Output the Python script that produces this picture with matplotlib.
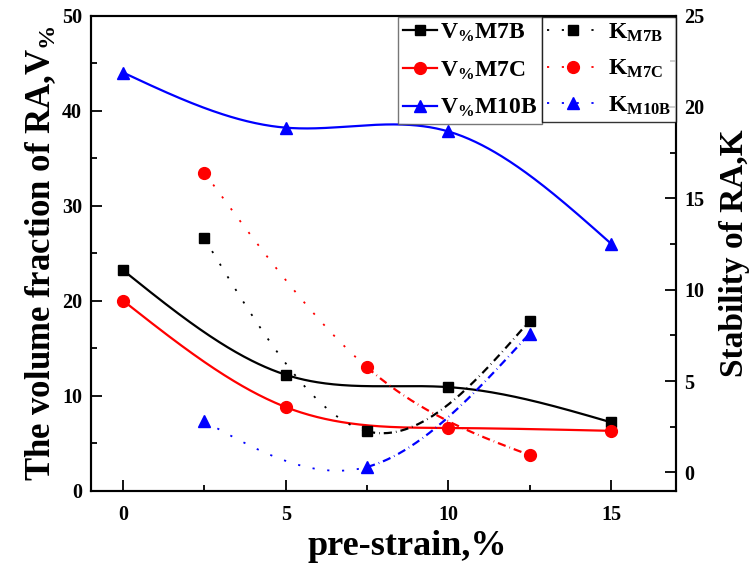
import matplotlib
matplotlib.use('Agg')
import matplotlib.pyplot as plt
from matplotlib.lines import Line2D
import numpy as np

plt.rcParams['font.family'] = ['Liberation Serif', 'DejaVu Serif']
plt.rcParams['font.weight'] = 'bold'
plt.rcParams['axes.labelweight'] = 'bold'
plt.rcParams['mathtext.fontset'] = 'custom'
plt.rcParams['mathtext.rm'] = 'Liberation Serif:bold'
plt.rcParams['mathtext.it'] = 'Liberation Serif:bold:italic'
plt.rcParams['mathtext.bf'] = 'Liberation Serif:bold'

# pre-strain (%)
strain_v = [0, 5, 10, 15]
strain_k = [2.5, 7.5, 12.5]

# volume fraction of RA, V% (left axis)
v_m7b = [23.2, 12.2, 10.9, 7.2]
v_m7c = [20.0, 8.8, 6.6, 6.3]
v_m10b = [44.0, 38.2, 37.8, 26.0]

# stability of RA, K (right axis)
k_m7b = [12.8, 2.25, 8.3]
k_m7c = [16.4, 5.75, 0.95]
k_m10b = [2.8, 0.3, 7.6]

v_labels = [r'$\mathrm{V_{\%}M7B}$', r'$\mathrm{V_{\%}M7C}$', r'$\mathrm{V_{\%}M10B}$']
k_labels = [r'$\mathrm{K_{M7B}}$', r'$\mathrm{K_{M7C}}$', r'$\mathrm{K_{M10B}}$']


def spline(x, y, xs):
    # natural cubic spline through the points
    x = np.asarray(x, float); y = np.asarray(y, float)
    n = len(x); h = np.diff(x)
    A = np.zeros((n, n)); r = np.zeros(n)
    A[0, 0] = A[-1, -1] = 1
    for i in range(1, n - 1):
        A[i, i - 1] = h[i - 1]; A[i, i] = 2 * (h[i - 1] + h[i]); A[i, i + 1] = h[i]
        r[i] = 3 * ((y[i + 1] - y[i]) / h[i] - (y[i] - y[i - 1]) / h[i - 1])
    c = np.linalg.solve(A, r)
    b = (y[1:] - y[:-1]) / h - h * (2 * c[:-1] + c[1:]) / 3
    d = (c[1:] - c[:-1]) / (3 * h)
    idx = np.clip(np.searchsorted(x, xs) - 1, 0, n - 2)
    t = xs - x[idx]
    return y[idx] + b[idx] * t + c[idx] * t ** 2 + d[idx] * t ** 3


fig = plt.figure(figsize=(7.5, 5.7), dpi=100)
ax = fig.add_axes([0.1207, 0.1391, 0.7807, 0.8337])
ax2 = ax.twinx()

colors = ['black', 'red', 'blue']
markers = ['s', 'o', '^']
msizes = [7.5, 8.5, 9]

xs = np.linspace(0, 15, 300)
v_handles = []
for vals, c, m, ms in zip([v_m7b, v_m7c, v_m10b], colors, markers, msizes):
    ax.plot(xs, spline(strain_v, vals, xs), color=c, lw=1.6)
    ax.plot(strain_v, vals, m, color=c, ms=ms)
    v_handles.append(Line2D([], [], color=c, lw=1.6, marker=m, ms=ms))

dot = (0, (1.2, 7))
dashdot = (0, (3.7, 1.8, 0.3, 1.8))
k_handles = []
for vals, c, m, ms in zip([k_m7b, k_m7c, k_m10b], colors, markers, msizes):
    x1 = np.linspace(strain_k[0], strain_k[1], 150)
    x2 = np.linspace(strain_k[1], strain_k[2], 150)
    ax2.plot(x1, spline(strain_k, vals, x1), color=c, lw=1.3, ls=dot)
    ax2.plot(x2, spline(strain_k, vals, x2), color=c, lw=1.6, ls=dashdot)
    ax2.plot(strain_k, vals, m, color=c, ms=ms)
    k_handles.append(Line2D([], [], color=c, lw=1.3, ls=dot, marker=m, ms=ms))

ax.set_xlim(-1, 17)
ax.set_ylim(0, 50)
ax2.set_ylim(-1, 25)
ax.set_xticks([0, 5, 10, 15])
ax.set_xticks([2.5, 7.5, 12.5], minor=True)
ax.set_yticks(np.arange(0, 51, 10))
ax.set_yticks(np.arange(5, 50, 10), minor=True)
ax2.set_yticks(np.arange(0, 26, 5))
ax2.set_yticks(np.arange(2.5, 25, 5), minor=True)

for a in (ax, ax2):
    a.tick_params(which='major', direction='in', length=8, width=1.3, labelsize=14.5)
    a.tick_params(which='minor', direction='in', length=4.5, width=1.3)
    for s in a.spines.values():
        s.set_linewidth(1.5)
ax.tick_params(axis='x', pad=10)
ax.tick_params(axis='y', pad=6)
ax2.tick_params(axis='y', pad=6)

ax.set_xlabel('pre-strain,%', fontsize=26)
ax.xaxis.set_label_coords(0.541, -0.083)
ax.set_ylabel(r'The volume fraction of RA,V$_{\%}$', fontsize=25, labelpad=3)
ax2.set_ylabel('Stability of RA,K', fontsize=24, labelpad=10)

leg1 = ax2.legend(v_handles, v_labels, loc='upper left', bbox_to_anchor=(0.525, 0.997),
                  borderaxespad=0, fontsize=17, frameon=True, fancybox=False,
                  handlelength=1.45, handletextpad=0.12, borderpad=0.2, labelspacing=0.65)
leg1.get_frame().set_edgecolor('#555555')
leg1.get_frame().set_linewidth(1.0)
ax2.add_artist(leg1)
leg2 = ax2.legend(k_handles, k_labels, loc='upper right', bbox_to_anchor=(1.0, 0.997),
                  borderaxespad=0, fontsize=17, frameon=True, fancybox=False,
                  handlelength=2.2, handletextpad=0.4, borderpad=0.2, labelspacing=0.6)
leg2.get_frame().set_edgecolor('black')
leg2.get_frame().set_linewidth(1.0)

fig.savefig('out.png', dpi=100)
